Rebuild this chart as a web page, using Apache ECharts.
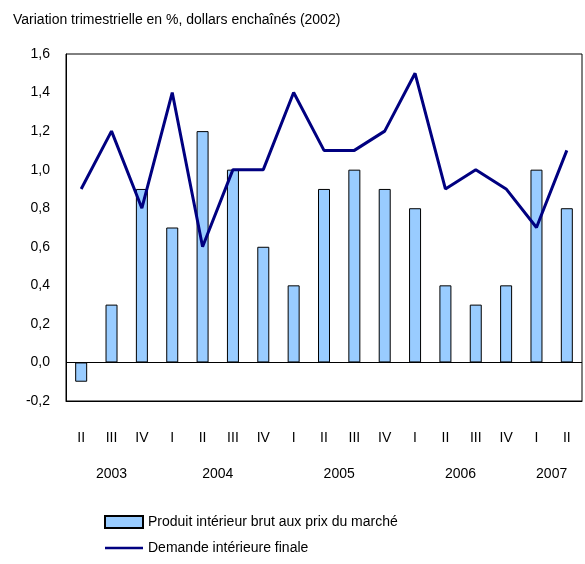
<!DOCTYPE html>
<html>
<head>
<meta charset="utf-8">
<script src="https://cdn.jsdelivr.net/npm/echarts@6/dist/echarts.min.js"></script>
<style>
  html, body { margin: 0; padding: 0; background: #fff; }
  #chart { width: 585px; height: 564px; }
</style>
</head>
<body>
<div id="chart"></div>
<script>
// trimestres de 2003 T2 a 2007 T2
const quarters = ['II', 'III', 'IV', 'I', 'II', 'III', 'IV', 'I', 'II', 'III', 'IV', 'I', 'II', 'III', 'IV', 'I', 'II']
const years = ['2003', '2004', '2005', '2006', '2007']
// position (en nombre de trimestres) du centre de chaque annee
const yearCenters = [1.5, 5, 9, 13, 16]
const pib = [-0.1, 0.3, 0.9, 0.7, 1.2, 1.0, 0.6, 0.4, 0.9, 1.0, 0.9, 0.8, 0.4, 0.3, 0.4, 1.0, 0.8]
const demande = [0.9, 1.2, 0.8, 1.4, 0.6, 1.0, 1.0, 1.4, 1.1, 1.1, 1.2, 1.5, 0.9, 1.0, 0.9, 0.7, 1.1]

const font = 'Liberation Sans, Arial, sans-serif'

let option = {
  animation: false,
  textStyle: {fontFamily: font},
  title: {
    text: 'Variation trimestrielle en %, dollars enchaînés (2002)',
    left: 8,
    top: 8,
    textStyle: {fontWeight: 'normal', fontSize: 14, color: '#000', fontFamily: font}
  },
  grid: {
    left: 66, right: 1, top: 54, bottom: 163,
    show: true, borderColor: '#000', borderWidth: 1
  },
  legend: {
    orient: 'vertical',
    left: 99,
    top: 510,
    itemGap: 12,
    itemWidth: 38,
    itemHeight: 12,
    selectedMode: false,
    textStyle: {fontSize: 14, color: '#000', fontFamily: font},
    data: [
      {name: 'Produit intérieur brut aux prix du marché', icon: 'rect'},
      {name: 'Demande intérieure finale', icon: 'path://M0,0L38,0L38,2.5L0,2.5Z'}
    ]
  },
  xAxis: [
    {
      type: 'category',
      data: quarters,
      position: 'bottom',
      axisLine: {onZero: false, lineStyle: {color: '#000'}},
      axisTick: {inside: true, length: 4, lineStyle: {color: '#000'}},
      axisLabel: {color: '#000', fontSize: 14, margin: 30, interval: 0, fontFamily: font}
    },
    {
      type: 'value',
      min: 0,
      max: quarters.length,
      interval: 0.5,
      position: 'bottom',
      offset: 36,
      axisLine: {show: false},
      axisTick: {show: false},
      splitLine: {show: false},
      axisLabel: {
        color: '#000', fontSize: 14, margin: 30, fontFamily: font,
        showMinLabel: true, showMaxLabel: true,
        formatter: function (v) {
          let i = yearCenters.indexOf(v)
          return i >= 0 ? years[i] : ''
        }
      }
    }
  ],
  yAxis: {
    type: 'value',
    min: -0.2,
    max: 1.6,
    interval: 0.2,
    axisLine: {show: true, lineStyle: {color: '#000'}},
    axisTick: {show: false},
    splitLine: {show: false},
    axisLabel: {
      color: '#000', fontSize: 14, margin: 16, fontFamily: font,
      formatter: function (v) { return v.toFixed(1).replace('.', ',') }
    }
  },
  series: [
    {
      name: 'Produit intérieur brut aux prix du marché',
      type: 'bar',
      data: pib,
      barWidth: 12,
      itemStyle: {color: '#99ccff', borderColor: '#000', borderWidth: 1},
      markLine: {
        silent: true,
        symbol: 'none',
        label: {show: false},
        lineStyle: {color: '#000', type: 'solid', width: 1},
        data: [{yAxis: 0}]
      }
    },
    {
      name: 'Demande intérieure finale',
      type: 'line',
      data: demande,
      symbol: 'none',
      lineStyle: {color: '#000080', width: 3},
      itemStyle: {color: '#000080'},
      z: 3
    }
  ]
}
echarts.init(document.getElementById('chart')).setOption(option)
</script>
</body>
</html>
